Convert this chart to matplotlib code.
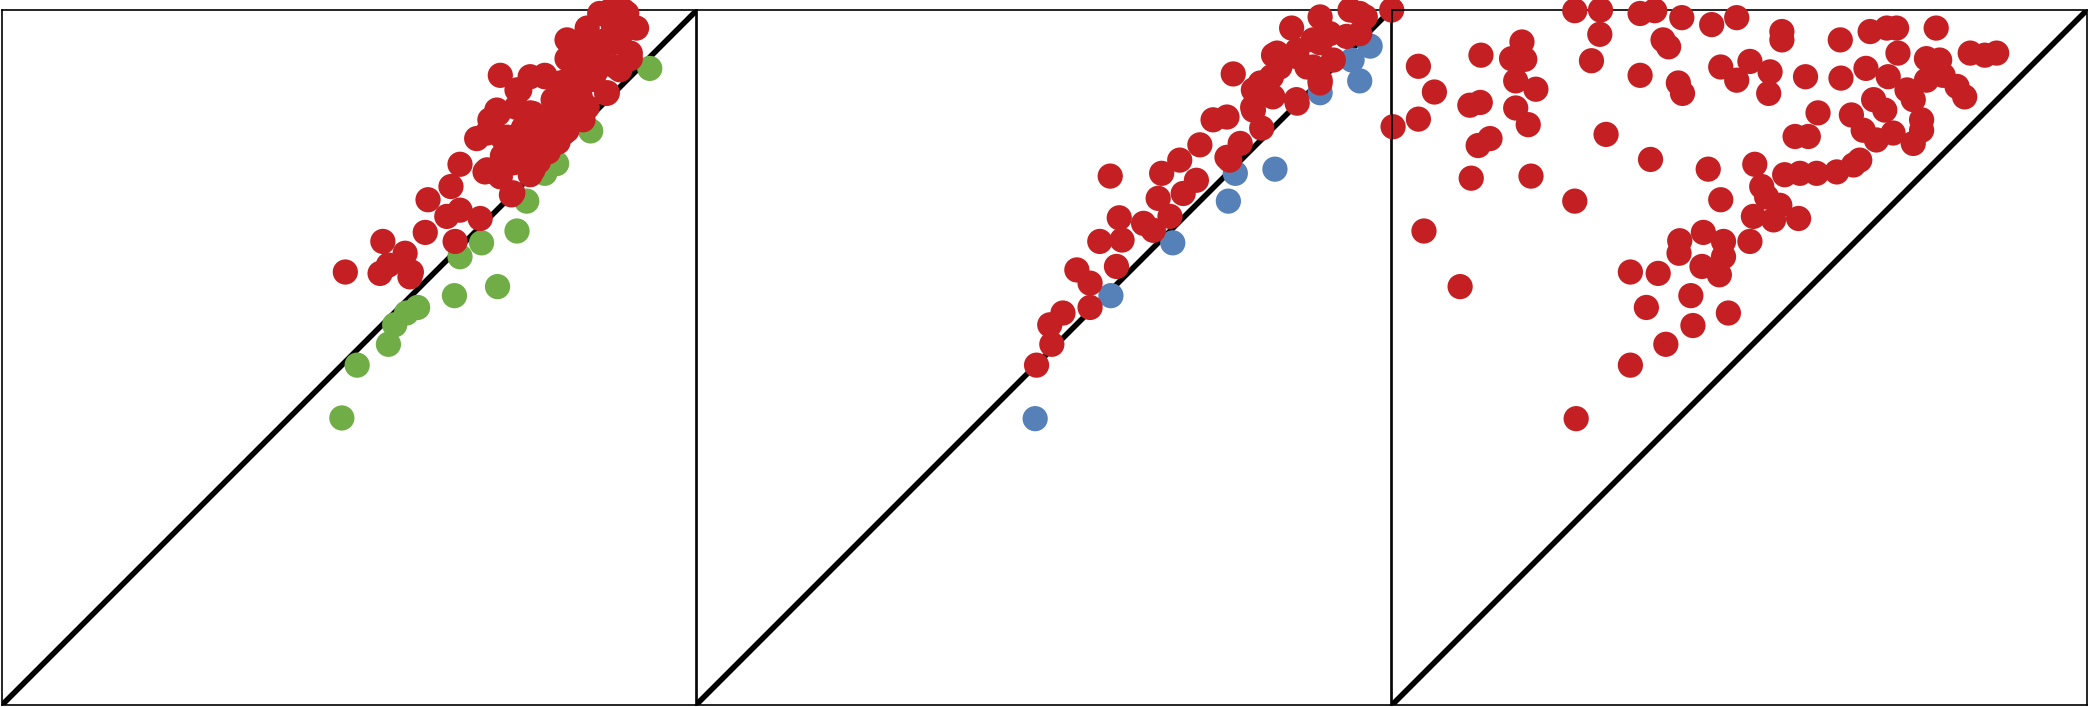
import numpy as np
import matplotlib
matplotlib.use("Agg")
import matplotlib.pyplot as plt

# panel 1: green (below line) and red
p1_green_x = [93.2, 84.7, 79.8, 78.1, 75.5, 74.1, 69.0, 65.9, 71.3, 65.1, 59.8, 58.2, 56.5, 55.6, 51.1, 48.9]
p1_green_y = [91.6, 82.6, 77.9, 76.5, 72.5, 68.2, 66.5, 64.5, 60.2, 58.9, 57.2, 56.4, 54.7, 51.9, 48.9, 41.3]
p1_red_x = [49.4, 54.8, 54.4, 55.6, 58.0, 58.9, 58.7, 60.9, 61.3, 65.2, 64.0, 65.9, 68.8, 64.6, 65.9,
            68.3, 70.5, 71.4, 72.1, 71.7, 69.5, 71.2, 73.3, 74.1, 76.0, 77.2, 74.1, 76.0, 78.1, 76.4,
            77.4, 76.9, 78.6, 79.3, 81.3, 81.3, 81.4, 81.3, 80.8, 83.6, 83.2, 85.1, 84.1, 84.6, 87.0,
            86.0, 88.4, 89.9, 91.3, 90.4, 88.4, 86.0, 87.0, 88.9, 82.7, 84.2, 83.2, 87.9, 90.4, 88.9,
            85.6, 78.1, 74.5, 87.1, 71.2, 76.0, 81.3, 84.2, 70.2, 72.7, 69.8, 77.0, 81.3, 78.1, 73.5,
            69.8, 76.4, 73.5, 71.7, 80.3, 83.2, 79.3, 87.5, 89.4, 87.9,
            74.0, 75.0, 79.0, 80.0, 72.0, 75.0, 82.0, 85.0, 86.0, 84.0]
p1_red_y = [62.3, 66.7, 62.1, 63.3, 65.0, 62.3, 61.6, 68.0, 72.7, 66.7, 70.3, 71.2, 70.0, 74.6, 77.8,
            81.5, 83.5, 85.1, 81.5, 90.6, 76.7, 76.5, 73.4, 78.4, 76.3, 78.2, 88.5, 90.4, 90.4, 85.1,
            83.2, 81.3, 79.6, 87.1, 95.7, 93.0, 89.9, 85.6, 82.3, 84.2, 87.5, 90.4, 96.6, 94.2, 88.0,
            99.5, 100.5, 99.5, 97.4, 93.0, 91.8, 92.1, 95.7, 96.2, 91.4, 97.4, 94.2, 95.3, 93.8, 91.4,
            91.4, 90.6, 88.5, 88.1, 85.6, 85.2, 86.6, 86.0, 84.2, 81.7, 82.3, 82.3, 82.7, 80.3, 78.0,
            77.0, 77.0, 73.7, 76.0, 89.5, 89.5, 84.6, 99.9, 99.9, 98.0,
            86.0, 83.0, 84.0, 81.0, 79.0, 80.0, 87.0, 90.0, 93.0, 86.0]

# panel 2: blue (below line) and red
p2_blue_x = [48.8, 59.7, 68.6, 76.6, 77.6, 83.3, 89.8, 95.5, 94.4, 97.0]
p2_blue_y = [41.2, 58.9, 66.5, 72.5, 76.5, 77.1, 88.1, 89.8, 92.8, 94.8]
p2_red_x = [49.0, 51.2, 50.9, 52.8, 56.7, 54.8, 56.7, 58.1, 60.5, 61.3, 59.6, 60.9, 64.4, 65.8, 66.5,
            68.2, 67.0, 69.6, 70.1, 72.0, 72.5, 74.4, 76.4, 76.8, 78.3, 77.3, 80.2, 80.2, 81.4, 83.1,
            82.8, 85.7, 86.4, 86.4, 88.8, 89.8, 89.8, 91.7, 91.2, 94.1, 95.5, 93.6, 95.5, 100.1, 100.3,
            88.8, 84.0, 96.3, 83.6, 86.5, 89.8, 81.2, 87.9, 89.8, 86.5, 80.1, 83.0, 76.4]
p2_red_y = [48.9, 51.9, 54.7, 56.4, 57.2, 62.6, 60.7, 66.7, 63.1, 66.9, 76.1, 70.1, 69.3, 68.3, 72.9,
            70.3, 76.5, 78.4, 73.6, 75.5, 80.6, 84.2, 84.6, 78.4, 80.8, 90.8, 88.5, 85.6, 83.0, 93.5,
            90.4, 97.4, 87.1, 93.3, 91.8, 89.9, 99.0, 92.8, 96.6, 100.0, 99.5, 96.2, 96.6, 100.0, 83.2,
            95.7, 91.8, 99.0, 93.8, 94.2, 95.3, 89.5, 91.8, 89.5, 86.6, 86.0, 87.5, 78.8]

# panel 3: red only
p3_red_x = [3.8, 6.1, 3.8, 12.8, 18.7, 17.2, 19.1, 17.8, 20.7, 11.2, 12.7, 17.8, 19.6, 14.1, 12.4,
            11.4, 20.0, 26.3, 4.6, 9.8, 26.5, 26.3, 30.0, 29.9, 28.7, 35.7, 37.8, 41.7, 46.0, 49.6,
            39.0, 39.8, 35.7, 41.2, 41.8, 47.3, 49.6, 30.8, 37.2, 45.5, 47.3, 44.8, 41.4, 41.3, 47.7,
            47.7, 44.6, 47.1, 34.3, 38.3, 43.0, 36.6, 48.4, 43.3, 39.4, 34.3,
            56.1, 56.1, 64.5, 68.8, 71.2, 72.6, 78.3, 51.5, 54.4, 54.2, 59.5, 64.6, 68.2, 72.8, 71.4,
            74.1, 75.0, 76.9, 78.8, 76.9, 79.3, 81.3, 82.4, 83.2, 85.3, 87.0, 61.3, 66.1, 69.3, 70.9,
            67.8, 69.7, 72.1, 75.0, 76.2, 76.2, 58.0, 59.9, 52.2, 56.5, 58.7, 61.1, 64.0, 66.4, 67.3,
            53.2, 53.9, 55.8, 52.0, 54.9, 58.5, 51.5]
p3_red_y = [91.9, 88.2, 84.3, 93.5, 95.4, 93.0, 92.9, 89.8, 88.6, 86.3, 86.7, 85.9, 83.5, 81.5, 80.5,
            75.8, 76.1, 72.5, 68.2, 60.2, 41.2, 99.9, 100.0, 96.5, 92.7, 99.5, 99.9, 98.9, 97.9, 98.9,
            95.7, 94.7, 90.6, 89.5, 88.0, 91.8, 89.9, 82.1, 78.5, 77.1, 72.7, 68.0, 66.8, 65.0, 66.7,
            64.5, 63.1, 61.9, 62.3, 62.1, 58.9, 57.2, 56.4, 54.6, 51.9, 48.9,
            96.9, 95.7, 95.7, 96.9, 97.4, 97.4, 97.4, 92.6, 91.1, 88.0, 90.4, 90.2, 91.6, 93.8, 90.4,
            88.5, 87.1, 93.0, 92.8, 89.9, 90.6, 89.0, 87.5, 93.8, 93.5, 93.8, 85.2, 84.9, 87.1, 85.6,
            82.7, 81.3, 82.3, 80.8, 84.2, 82.7, 81.8, 81.8, 77.8, 76.3, 76.5, 76.5, 76.7, 77.7, 78.4,
            74.6, 73.1, 71.9, 70.3, 69.8, 70.0, 66.7]

RED = "#c42024"
GREEN = "#70ad47"
BLUE = "#5580b8"
SIZE = 330

fig = plt.figure(figsize=(20.89, 7.07), dpi=100)
fig.patch.set_facecolor("white")

W, H = 2089.0, 707.0
lefts = [2, 696, 1392]
axes = []
for left in lefts:
    ax = fig.add_axes([left / W, 2 / H, 695 / W, 695 / H])
    ax.set_facecolor("none")
    ax.set_xlim(0, 100)
    ax.set_ylim(0, 100)
    ax.set_xticks([])
    ax.set_yticks([])
    for sp in ax.spines.values():
        sp.set_linewidth(1.2)
        sp.set_color("black")
    ax.plot([0, 100], [0, 100], color="black", lw=4, zorder=2, solid_capstyle="butt")
    axes.append(ax)

axes[0].scatter(p1_green_x, p1_green_y, s=SIZE, color=GREEN, edgecolors="none", zorder=3, clip_on=False)
axes[0].scatter(p1_red_x, p1_red_y, s=SIZE, color=RED, edgecolors="none", zorder=4, clip_on=False)

axes[1].scatter(p2_blue_x, p2_blue_y, s=SIZE, color=BLUE, edgecolors="none", zorder=3, clip_on=False)
axes[1].scatter(p2_red_x, p2_red_y, s=SIZE, color=RED, edgecolors="none", zorder=4, clip_on=False)

axes[2].scatter(p3_red_x, p3_red_y, s=SIZE, color=RED, edgecolors="none", zorder=4, clip_on=False)

fig.savefig("out.png", dpi=100)
